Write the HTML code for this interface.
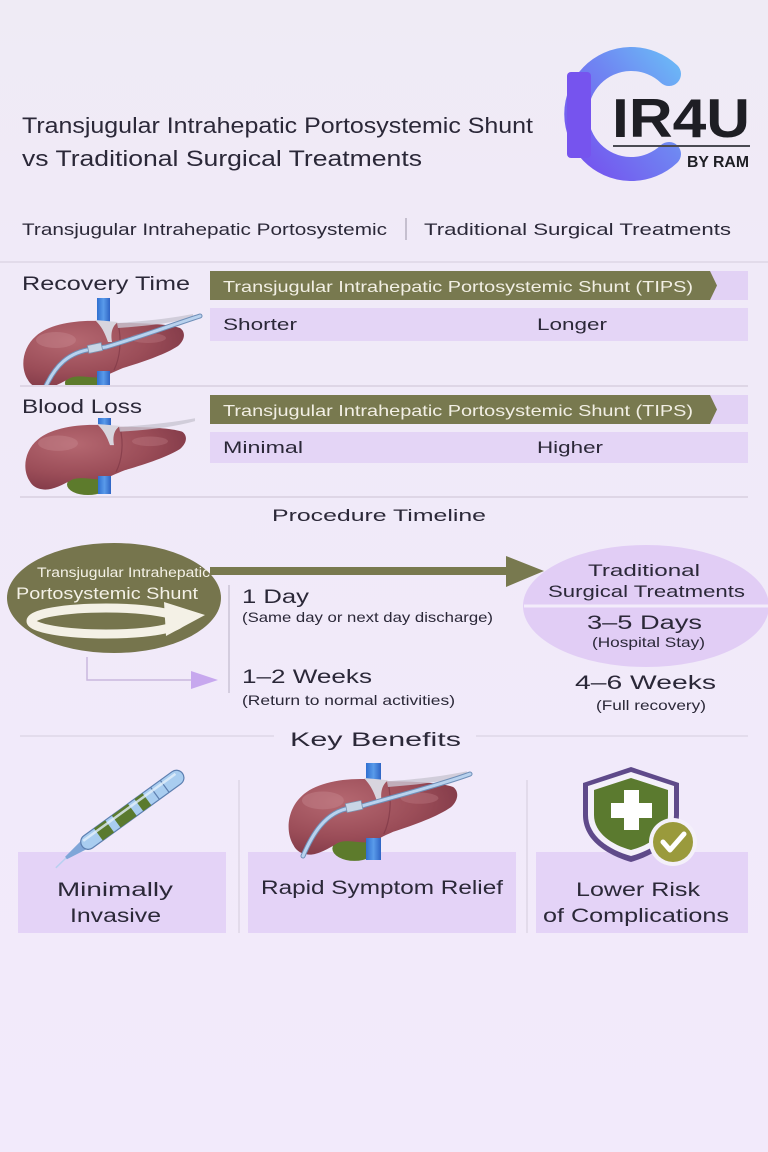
<!DOCTYPE html>
<html><head><meta charset="utf-8"><style>
html,body{margin:0;padding:0;background:#f2ebfa;}
svg{display:block;}
text{font-family:"Liberation Sans",sans-serif;}
</style></head><body>
<svg width="768" height="1152" viewBox="0 0 768 1152" xmlns="http://www.w3.org/2000/svg">
<defs>
<linearGradient id="bg" x1="0" y1="0" x2="0" y2="1">
<stop offset="0" stop-color="#efebf5"/><stop offset="0.25" stop-color="#f0eaf8"/><stop offset="1" stop-color="#f2eafb"/>
</linearGradient>
<linearGradient id="logoG" x1="0" y1="1" x2="1" y2="0">
<stop offset="0" stop-color="#7550ee"/><stop offset="0.6" stop-color="#6f86f2"/><stop offset="1" stop-color="#6cb4f6"/>
</linearGradient>
<radialGradient id="liverG" cx="0.3" cy="0.3" r="0.85">
<stop offset="0" stop-color="#b56871"/><stop offset="0.55" stop-color="#9b4d58"/><stop offset="1" stop-color="#7a3443"/>
</radialGradient>
<linearGradient id="vesselG" x1="0" y1="0" x2="1" y2="0">
<stop offset="0" stop-color="#2f6fd0"/><stop offset="0.5" stop-color="#5a9bea"/><stop offset="1" stop-color="#2e64c4"/>
</linearGradient>
<g id="liverBody">
<ellipse cx="68" cy="63" rx="21" ry="11" fill="#5d7b2c"/>
<path d="M10 60 C2 48 4 28 18 16 C30 5 55 0 80 1 C88 1 94 3 100 3 C125 3 150 4 162 8 C168 12 167 20 160 26 C148 34 125 42 105 48 C95 52 90 55 84 57 C72 59 62 54 52 58 C42 64 30 70 22 68 C16 67 12 64 10 60 Z" fill="url(#liverG)"/>
<path d="M100 4 C104 20 102 38 96 50" stroke="#7a3443" stroke-width="1.2" fill="none" opacity="0.6"/>
<ellipse cx="38" cy="20" rx="20" ry="8" fill="#c98a90" opacity="0.4"/>
<ellipse cx="130" cy="18" rx="18" ry="5" fill="#c38189" opacity="0.35"/>
<path d="M99 3 C130 1 155 -2 175 -6 L175 -3 C155 3 130 6 100 8 Z" fill="#c9c6d2" opacity="0.8"/>
<path d="M77 0 C82 5 86 10 90 22 L94 22 C92 10 96 5 100 2 Z" fill="#d8d5de"/>
</g>
</defs>
<rect width="768" height="1152" fill="url(#bg)"/>

<!-- Title -->
<text x="22" y="133" font-size="22" fill="#2b2838" textLength="511" lengthAdjust="spacingAndGlyphs">Transjugular Intrahepatic Portosystemic Shunt</text>
<text x="22" y="166" font-size="22" fill="#2b2838" textLength="400" lengthAdjust="spacingAndGlyphs">vs Traditional Surgical Treatments</text>

<!-- Logo -->
<path d="M669 74 A55 55 0 1 0 669 154" stroke="url(#logoG)" stroke-width="24" fill="none" stroke-linecap="round"/>
<rect x="567" y="72" width="24" height="86" rx="4" fill="#7654ee"/>
<text x="612" y="137" font-size="55" font-weight="bold" fill="#1e1e24" textLength="138" lengthAdjust="spacingAndGlyphs">IR4U</text>
<line x1="613" y1="146" x2="750" y2="146" stroke="#4a4a52" stroke-width="2"/>
<text x="687" y="167" font-size="16" font-weight="bold" fill="#1e1e24" textLength="62" lengthAdjust="spacingAndGlyphs">BY RAM</text>

<!-- Header row -->
<text x="22" y="235" font-size="17" fill="#2b2838" textLength="365" lengthAdjust="spacingAndGlyphs">Transjugular Intrahepatic Portosystemic</text>
<line x1="406" y1="218" x2="406" y2="240" stroke="#9a94a6" stroke-width="1"/>
<text x="424" y="235" font-size="17" fill="#2b2838" textLength="307" lengthAdjust="spacingAndGlyphs">Traditional Surgical Treatments</text>
<line x1="0" y1="262" x2="768" y2="262" stroke="#ddd6e6" stroke-width="1.5"/>

<!-- Recovery Time -->
<text x="22" y="290" font-size="19" fill="#2b2838" textLength="168" lengthAdjust="spacingAndGlyphs">Recovery Time</text>
<rect x="700" y="271" width="48" height="29" fill="#e2d2f5"/>
<polygon points="210,271 710,271 717,285.5 710,300 210,300" fill="#78794f"/>
<text x="223" y="292" font-size="16" fill="#f2efe4" textLength="470" lengthAdjust="spacingAndGlyphs">Transjugular Intrahepatic Portosystemic Shunt (TIPS)</text>
<rect x="210" y="308" width="538" height="33" fill="#e4d5f6"/>
<text x="223" y="330" font-size="17" fill="#2b2838" textLength="74" lengthAdjust="spacingAndGlyphs">Shorter</text>
<text x="537" y="330" font-size="17" fill="#2b2838" textLength="70" lengthAdjust="spacingAndGlyphs">Longer</text>
<svg x="0" y="296" width="210" height="89" overflow="hidden">
<rect x="97" y="2" width="13" height="90" fill="url(#vesselG)"/>
<use href="#liverBody" transform="translate(18,24)"/>
<rect x="97" y="75" width="13" height="20" fill="url(#vesselG)"/>
<path d="M45 92 C55 70 68 56 93 53 L106 51 C140 41 175 28 200 20" stroke="#6f8fb8" stroke-width="5" fill="none" stroke-linecap="round"/>
<path d="M45 92 C55 70 68 56 93 53 L106 51 C140 41 175 28 200 20" stroke="#b9d2ee" stroke-width="3" fill="none" stroke-linecap="round"/>
<rect x="88" y="48" width="14" height="8" fill="#c8d6e6" stroke="#7d93b0" stroke-width="0.8" transform="rotate(-12 95 52)"/>
</svg>
<line x1="20" y1="386" x2="748" y2="386" stroke="#d8d0e0" stroke-width="1.5"/>

<!-- Blood Loss -->
<text x="22" y="413" font-size="19" fill="#2b2838" textLength="120" lengthAdjust="spacingAndGlyphs">Blood Loss</text>
<rect x="700" y="395" width="48" height="29" fill="#e2d2f5"/>
<polygon points="210,395 710,395 717,409.5 710,424 210,424" fill="#78794f"/>
<text x="223" y="416" font-size="16" fill="#f2efe4" textLength="470" lengthAdjust="spacingAndGlyphs">Transjugular Intrahepatic Portosystemic Shunt (TIPS)</text>
<rect x="210" y="432" width="538" height="31" fill="#e4d5f6"/>
<text x="223" y="453" font-size="17" fill="#2b2838" textLength="80" lengthAdjust="spacingAndGlyphs">Minimal</text>
<text x="537" y="453" font-size="17" fill="#2b2838" textLength="66" lengthAdjust="spacingAndGlyphs">Higher</text>
<rect x="98" y="418" width="13" height="76" fill="url(#vesselG)"/>
<use href="#liverBody" transform="translate(20,424) scale(1,0.96)"/>
<rect x="98" y="476" width="13" height="18" fill="url(#vesselG)"/>
<line x1="20" y1="497" x2="748" y2="497" stroke="#d8d0e0" stroke-width="1.5"/>

<!-- Procedure Timeline -->
<text x="272" y="521" font-size="17" fill="#2b2838" textLength="214" lengthAdjust="spacingAndGlyphs">Procedure Timeline</text>

<ellipse cx="114" cy="598" rx="107" ry="55" fill="#76754d"/>
<text x="37" y="577" font-size="13.5" fill="#f4f1e6" textLength="173" lengthAdjust="spacingAndGlyphs">Transjugular Intrahepatic</text>
<text x="16" y="599" font-size="17" fill="#f4f1e6" textLength="182" lengthAdjust="spacingAndGlyphs">Portosystemic Shunt</text>
<ellipse cx="106" cy="621" rx="75" ry="13" fill="none" stroke="#f4f1e6" stroke-width="9"/>
<polygon points="164,602 205,615 166,636" fill="#f4f1e6"/>

<rect x="210" y="567" width="300" height="8" fill="#78794f"/>
<polygon points="506,556 544,571 506,587" fill="#78794f"/>

<line x1="229" y1="585" x2="229" y2="693" stroke="#b8b0c4" stroke-width="1"/>
<polyline points="87,657 87,680 192,680" fill="none" stroke="#c9b8de" stroke-width="1.5"/>
<polygon points="191,671 218,680 191,689" fill="#c7a8ee"/>

<text x="242" y="603" font-size="19" fill="#2b2838" textLength="67" lengthAdjust="spacingAndGlyphs">1 Day</text>
<text x="242" y="622" font-size="14" fill="#2b2838" textLength="251" lengthAdjust="spacingAndGlyphs">(Same day or next day discharge)</text>
<text x="242" y="683" font-size="19" fill="#2b2838" textLength="130" lengthAdjust="spacingAndGlyphs">1–2 Weeks</text>
<text x="242" y="705" font-size="14" fill="#2b2838" textLength="213" lengthAdjust="spacingAndGlyphs">(Return to normal activities)</text>

<ellipse cx="646" cy="606" rx="123" ry="61" fill="#e1cdf5"/>
<line x1="524" y1="606" x2="768" y2="606" stroke="#f3ecfb" stroke-width="3"/>
<text x="588" y="576" font-size="17" fill="#2b2838" textLength="112" lengthAdjust="spacingAndGlyphs">Traditional</text>
<text x="548" y="597" font-size="17" fill="#2b2838" textLength="197" lengthAdjust="spacingAndGlyphs">Surgical Treatments</text>
<text x="587" y="629" font-size="19" fill="#2b2838" textLength="115" lengthAdjust="spacingAndGlyphs">3–5 Days</text>
<text x="592" y="647" font-size="14" fill="#2b2838" textLength="113" lengthAdjust="spacingAndGlyphs">(Hospital Stay)</text>
<text x="575" y="689" font-size="19" fill="#2b2838" textLength="141" lengthAdjust="spacingAndGlyphs">4–6 Weeks</text>
<text x="596" y="710" font-size="14" fill="#2b2838" textLength="110" lengthAdjust="spacingAndGlyphs">(Full recovery)</text>

<!-- Key Benefits -->
<line x1="20" y1="736" x2="274" y2="736" stroke="#dbd3e4" stroke-width="1.2"/>
<line x1="476" y1="736" x2="748" y2="736" stroke="#dbd3e4" stroke-width="1.2"/>
<text x="290" y="746" font-size="19" fill="#2b2838" textLength="171" lengthAdjust="spacingAndGlyphs">Key Benefits</text>

<line x1="239" y1="780" x2="239" y2="933" stroke="#d4ccdc" stroke-width="1"/>
<line x1="527" y1="780" x2="527" y2="933" stroke="#d4ccdc" stroke-width="1"/>

<rect x="18" y="852" width="208" height="81" fill="#e4d3f7"/>
<rect x="248" y="852" width="268" height="81" fill="#e4d3f7"/>
<rect x="536" y="852" width="212" height="81" fill="#e4d3f7"/>

<!-- Pen icon -->
<g transform="translate(66,858) rotate(-36)">
<line x1="-14" y1="2" x2="0" y2="0" stroke="#b8d0f0" stroke-width="1.5"/>
<polygon points="0,-1.5 22,-5 22,5 0,1.5" fill="#7fa6d8"/>
<rect x="20" y="-7.5" width="124" height="15" rx="7.5" fill="#a9cdf0" stroke="#5d7fb0" stroke-width="1.2"/>
<rect x="40" y="-7.5" width="14" height="15" fill="#5a7a2e"/>
<rect x="62" y="-7.5" width="20" height="15" fill="#5a7a2e"/>
<rect x="90" y="-7.5" width="10" height="15" fill="#5a7a2e"/>
<line x1="110" y1="-7.5" x2="110" y2="7.5" stroke="#5d7fb0" stroke-width="1.2"/>
<line x1="122" y1="-7.5" x2="122" y2="7.5" stroke="#5d7fb0" stroke-width="1.2"/>
<rect x="24" y="-5" width="114" height="2.5" fill="#e4f0fb" opacity="0.8"/>
</g>

<!-- Liver icon -->
<rect x="366" y="763" width="15" height="97" fill="url(#vesselG)"/>
<use href="#liverBody" transform="translate(283,778) scale(1.05,1.12)"/>
<rect x="366" y="838" width="15" height="22" fill="url(#vesselG)"/>
<path d="M303 856 C312 835 325 812 350 808 L362 806 C400 795 440 785 470 774" stroke="#6f8fb8" stroke-width="5" fill="none" stroke-linecap="round"/>
<path d="M303 856 C312 835 325 812 350 808 L362 806 C400 795 440 785 470 774" stroke="#b9d2ee" stroke-width="3" fill="none" stroke-linecap="round"/>
<rect x="346" y="802" width="16" height="9" fill="#c8d6e6" stroke="#7d93b0" stroke-width="0.8" transform="rotate(-12 354 806)"/>

<!-- Shield icon -->
<path d="M631 767 L679 783 L679 815 C679 840 655 855 631 862 C607 855 583 840 583 815 L583 783 Z" fill="#5f4a8a"/>
<path d="M631 772 L674 786 L674 815 C674 836 653 850 631 856 C609 850 588 836 588 815 L588 786 Z" fill="#f4f0fa"/>
<path d="M631 778 L668 790 L668 815 C668 833 650 845 631 850 C612 845 594 833 594 815 L594 790 Z" fill="#5b7a2f"/>
<rect x="624" y="790" width="15" height="40" fill="#ffffff"/>
<rect x="611" y="803" width="41" height="15" fill="#ffffff"/>
<circle cx="673" cy="842" r="24" fill="#f4f0fa"/>
<circle cx="673" cy="842" r="20" fill="#9a9a3c"/>
<polyline points="663,842 670,850 684,834" fill="none" stroke="#ffffff" stroke-width="5" stroke-linecap="round" stroke-linejoin="round"/>

<text x="57" y="896" font-size="19" fill="#2b2838" textLength="116" lengthAdjust="spacingAndGlyphs">Minimally</text>
<text x="70" y="922" font-size="19" fill="#2b2838" textLength="91" lengthAdjust="spacingAndGlyphs">Invasive</text>
<text x="261" y="894" font-size="19" fill="#2b2838" textLength="242" lengthAdjust="spacingAndGlyphs">Rapid Symptom Relief</text>
<text x="576" y="896" font-size="19" fill="#2b2838" textLength="124" lengthAdjust="spacingAndGlyphs">Lower Risk</text>
<text x="543" y="922" font-size="19" fill="#2b2838" textLength="186" lengthAdjust="spacingAndGlyphs">of Complications</text>
</svg>
</body></html>
